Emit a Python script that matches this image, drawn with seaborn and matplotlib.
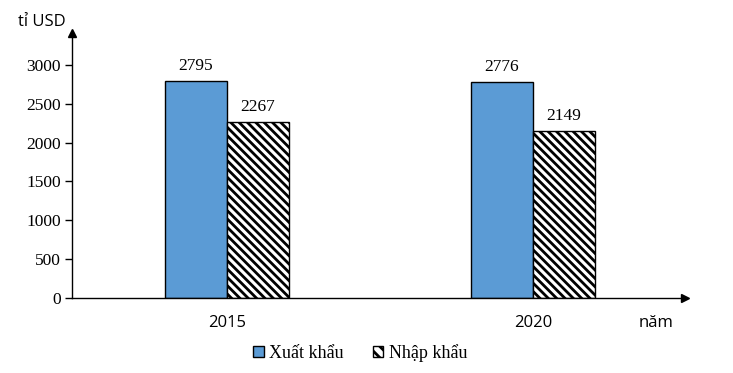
import pandas as pd
import matplotlib.pyplot as plt
import seaborn as sns
from matplotlib.patches import Patch

# data
years = ["2015", "2020"]
xuat_khau = [2795, 2776]
nhap_khau = [2267, 2149]
series_names = ["Xuất khẩu", "Nhập khẩu"]

df = pd.DataFrame({
    "year": years * 2,
    "value": xuat_khau + nhap_khau,
    "type": [series_names[0]] * 2 + [series_names[1]] * 2,
})

sns.set_style("white")
plt.rcParams["hatch.linewidth"] = 2.0
plt.rcParams["text.color"] = "black"
plt.rcParams["xtick.color"] = "black"
plt.rcParams["ytick.color"] = "black"
serif = ["Liberation Serif", "DejaVu Serif"]
sans = ["Open Sans", "DejaVu Sans"]
blue = "#5b9bd5"
hatch = "\\" * 4

fig = plt.figure(figsize=(7.33, 3.73), dpi=100)
ax = fig.add_axes([72 / 733, 75 / 373, (685 - 72) / 733, (298 - 33) / 373])

sns.barplot(data=df, x="year", y="value", hue="type",
            palette=[blue, "white"], saturation=1, edgecolor="black", linewidth=1,
            width=0.405, ax=ax, legend=False)

# hatch the import bars
for bar in ax.containers[1]:
    bar.set_hatch(hatch)

# value labels
for cont in ax.containers:
    ax.bar_label(cont, fmt="%d", padding=5, fontsize=12.5, family=serif, color="black")

ax.set_xlim(-0.5065, 1.497)
ax.set_ylim(0, 3412)
ax.set_yticks(range(0, 3001, 500))
ax.set_yticklabels([str(v) for v in range(0, 3001, 500)], fontfamily=serif, fontsize=12.5)
ax.set_xticks([0, 1])
ax.set_xticklabels(years, fontfamily=sans, fontsize=12)
ax.tick_params(axis="y", length=5, width=1, pad=3, left=True, direction="out",
               color="black", labelcolor="black")
ax.tick_params(axis="x", length=0, pad=12, labelcolor="black")
ax.set_xlabel("")
ax.set_ylabel("")

sns.despine(ax=ax)
for s in ["left", "bottom"]:
    ax.spines[s].set_color("black")
    ax.spines[s].set_linewidth(1)

# axis arrows
ax.plot(0, 1, marker="^", color="black", markersize=6, transform=ax.transAxes, clip_on=False)
ax.plot(1, 0, marker=">", color="black", markersize=6, transform=ax.transAxes, clip_on=False)

fig.text(18 / 733, 1 - 22 / 373, "tỉ USD", fontsize=12, family=sans, va="center", ha="left")
fig.text(656 / 733, 1 - 323 / 373, "năm", fontsize=12, family=sans, va="center", ha="center")

# legend
handles = [Patch(facecolor=blue, edgecolor="black", label=series_names[0]),
           Patch(facecolor="white", edgecolor="black", hatch="\\" * 3, label=series_names[1])]
fig.legend(handles=handles, loc="center", bbox_to_anchor=(360 / 733, 1 - 353 / 373),
           ncol=2, frameon=False, prop={"family": serif, "size": 13},
           handlelength=0.6, handleheight=0.6, handletextpad=0.3, columnspacing=1.6)

fig.savefig("out.png", dpi=100)
